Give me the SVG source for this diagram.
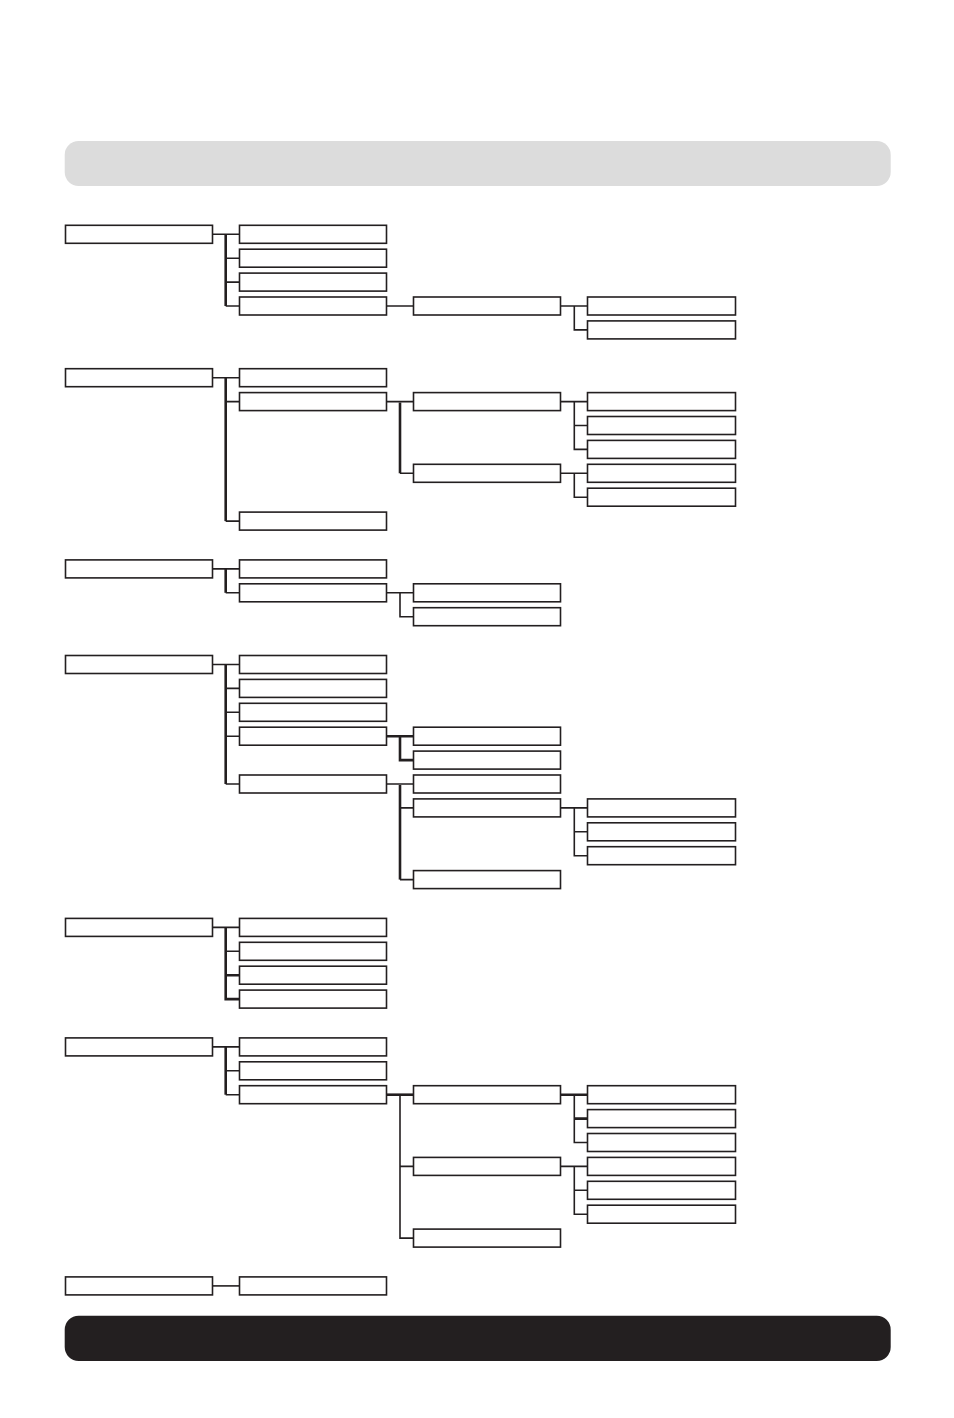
<svg xmlns="http://www.w3.org/2000/svg" width="954" height="1418" viewBox="0 0 954 1418">
<style>
.b{fill:#fff;stroke:#231f20;stroke-width:1.6}
.c{fill:none;stroke:#231f20;stroke-width:1.6}
.t{fill:none;stroke:#231f20;stroke-width:2.6}
.l0{width:147px}
</style>
<rect width="954" height="1418" fill="#fff"/>
<g id="header"><rect x="64.7" y="141" width="826" height="45" rx="14" fill="#dcdcdc"/></g>
<g id="footer"><rect x="64.7" y="1315.7" width="826" height="45.3" rx="14" fill="#231f20"/></g>
<g id="connectors">
<!-- G1 -->
<path class="c" d="M212.5 234.3H239.5M225.7 258.2H239.5M225.7 282.1H239.5M225.7 306H239.5"/>
<path class="t" d="M225.7 234.3V306"/>
<path class="c" d="M386.5 306H413.5M560.5 306H587.5M574.3 306V329.9H587.5"/>
<!-- G2 -->
<path class="c" d="M212.5 377.7H239.5M225.7 401.6H239.5M225.7 521.1H239.5"/>
<path class="t" d="M225.7 377.7V521.1"/>
<path class="c" d="M386.5 401.6H413.5M400 473.3H413.5"/>
<path class="t" d="M400 402.5V473.3"/>
<path class="c" d="M560.5 401.6H587.5M574.3 401.6V449.4H587.5M574.3 425.5H587.5"/>
<path class="c" d="M560.5 473.3H587.5M574.3 473.3V497.2H587.5"/>
<!-- G3 -->
<path class="c" d="M212.5 568.9H239.5M225.7 592.8H239.5"/>
<path class="t" d="M225.7 568.9V592.8"/>
<path class="c" d="M386.5 592.8H413.5M400 592.8V616.7H413.5"/>
<!-- G4 -->
<path class="c" d="M212.5 664.5H239.5M225.7 688.4H239.5M225.7 712.3H239.5M225.7 736.2H239.5M225.7 784H239.5"/>
<path class="t" d="M225.7 664.5V784"/>
<path class="t" d="M386.5 736.2H413.5M400 736.2V760.1H413.5"/>
<path class="c" d="M386.5 784H413.5M400 807.9H413.5M400 879.6H413.5"/>
<path class="t" d="M400 785V879.6"/>
<path class="c" d="M560.5 807.9H587.5M574.3 807.9V855.7H587.5M574.3 831.8H587.5"/>
<!-- G5 -->
<path class="c" d="M212.5 927.4H239.5M225.7 951.3H239.5"/>
<path class="t" d="M225.7 927.4V999.1H239.5M225.7 975.2H239.5"/>
<!-- G6 -->
<path class="c" d="M212.5 1046.9H239.5M225.7 1070.8H239.5M225.7 1094.7H239.5"/>
<path class="t" d="M225.7 1046.9V1094.7"/>
<path class="t" d="M386.5 1094.7H413.5"/>
<path class="c" d="M400 1094.7V1238.1H413.5M400 1166.4H413.5"/>
<path class="t" d="M560.5 1094.7H587.5M574.3 1118.6H587.5"/>
<path class="c" d="M574.3 1094.7V1142.5H587.5"/>
<path class="c" d="M560.5 1166.4H587.5M574.3 1166.4V1214.2H587.5M574.3 1190.3H587.5"/>
<!-- G7 -->
<path class="c" d="M212.5 1285.9H239.5"/>
</g>
<g id="group1">
<rect id="n1" class="b" x="65.5" y="225.3" width="147" height="18"/>
<rect id="n1a" class="b" x="239.5" y="225.3" width="147" height="18"/>
<rect id="n1b" class="b" x="239.5" y="249.2" width="147" height="18"/>
<rect id="n1c" class="b" x="239.5" y="273.1" width="147" height="18"/>
<rect id="n1d" class="b" x="239.5" y="297" width="147" height="18"/>
<rect id="n1d1" class="b" x="413.5" y="297" width="147" height="18"/>
<rect id="n1d1a" class="b" x="587.5" y="297" width="148" height="18"/>
<rect id="n1d1b" class="b" x="587.5" y="320.9" width="148" height="18"/>
</g>
<g id="group2">
<rect id="n2" class="b" x="65.5" y="368.7" width="147" height="18"/>
<rect id="n2a" class="b" x="239.5" y="368.7" width="147" height="18"/>
<rect id="n2b" class="b" x="239.5" y="392.6" width="147" height="18"/>
<rect id="n2c" class="b" x="239.5" y="512.1" width="147" height="18"/>
<rect id="n2b1" class="b" x="413.5" y="392.6" width="147" height="18"/>
<rect id="n2b2" class="b" x="413.5" y="464.3" width="147" height="18"/>
<rect id="n2b1a" class="b" x="587.5" y="392.6" width="148" height="18"/>
<rect id="n2b1b" class="b" x="587.5" y="416.5" width="148" height="18"/>
<rect id="n2b1c" class="b" x="587.5" y="440.4" width="148" height="18"/>
<rect id="n2b2a" class="b" x="587.5" y="464.3" width="148" height="18"/>
<rect id="n2b2b" class="b" x="587.5" y="488.2" width="148" height="18"/>
</g>
<g id="group3">
<rect id="n3" class="b" x="65.5" y="559.9" width="147" height="18"/>
<rect id="n3a" class="b" x="239.5" y="559.9" width="147" height="18"/>
<rect id="n3b" class="b" x="239.5" y="583.8" width="147" height="18"/>
<rect id="n3b1" class="b" x="413.5" y="583.8" width="147" height="18"/>
<rect id="n3b2" class="b" x="413.5" y="607.7" width="147" height="18"/>
</g>
<g id="group4">
<rect id="n4" class="b" x="65.5" y="655.5" width="147" height="18"/>
<rect id="n4a" class="b" x="239.5" y="655.5" width="147" height="18"/>
<rect id="n4b" class="b" x="239.5" y="679.4" width="147" height="18"/>
<rect id="n4c" class="b" x="239.5" y="703.3" width="147" height="18"/>
<rect id="n4d" class="b" x="239.5" y="727.2" width="147" height="18"/>
<rect id="n4e" class="b" x="239.5" y="775" width="147" height="18"/>
<rect id="n4d1" class="b" x="413.5" y="727.2" width="147" height="18"/>
<rect id="n4d2" class="b" x="413.5" y="751.1" width="147" height="18"/>
<rect id="n4e1" class="b" x="413.5" y="775" width="147" height="18"/>
<rect id="n4e2" class="b" x="413.5" y="798.9" width="147" height="18"/>
<rect id="n4e3" class="b" x="413.5" y="870.6" width="147" height="18"/>
<rect id="n4e2a" class="b" x="587.5" y="798.9" width="148" height="18"/>
<rect id="n4e2b" class="b" x="587.5" y="822.8" width="148" height="18"/>
<rect id="n4e2c" class="b" x="587.5" y="846.7" width="148" height="18"/>
</g>
<g id="group5">
<rect id="n5" class="b" x="65.5" y="918.4" width="147" height="18"/>
<rect id="n5a" class="b" x="239.5" y="918.4" width="147" height="18"/>
<rect id="n5b" class="b" x="239.5" y="942.3" width="147" height="18"/>
<rect id="n5c" class="b" x="239.5" y="966.2" width="147" height="18"/>
<rect id="n5d" class="b" x="239.5" y="990.1" width="147" height="18"/>
</g>
<g id="group6">
<rect id="n6" class="b" x="65.5" y="1037.9" width="147" height="18"/>
<rect id="n6a" class="b" x="239.5" y="1037.9" width="147" height="18"/>
<rect id="n6b" class="b" x="239.5" y="1061.8" width="147" height="18"/>
<rect id="n6c" class="b" x="239.5" y="1085.7" width="147" height="18"/>
<rect id="n6c1" class="b" x="413.5" y="1085.7" width="147" height="18"/>
<rect id="n6c2" class="b" x="413.5" y="1157.4" width="147" height="18"/>
<rect id="n6c3" class="b" x="413.5" y="1229.1" width="147" height="18"/>
<rect id="n6c1a" class="b" x="587.5" y="1085.7" width="148" height="18"/>
<rect id="n6c1b" class="b" x="587.5" y="1109.6" width="148" height="18"/>
<rect id="n6c1c" class="b" x="587.5" y="1133.5" width="148" height="18"/>
<rect id="n6c2a" class="b" x="587.5" y="1157.4" width="148" height="18"/>
<rect id="n6c2b" class="b" x="587.5" y="1181.3" width="148" height="18"/>
<rect id="n6c2c" class="b" x="587.5" y="1205.2" width="148" height="18"/>
</g>
<g id="group7">
<rect id="n7" class="b" x="65.5" y="1276.9" width="147" height="18"/>
<rect id="n7a" class="b" x="239.5" y="1276.9" width="147" height="18"/>
</g>
</svg>
